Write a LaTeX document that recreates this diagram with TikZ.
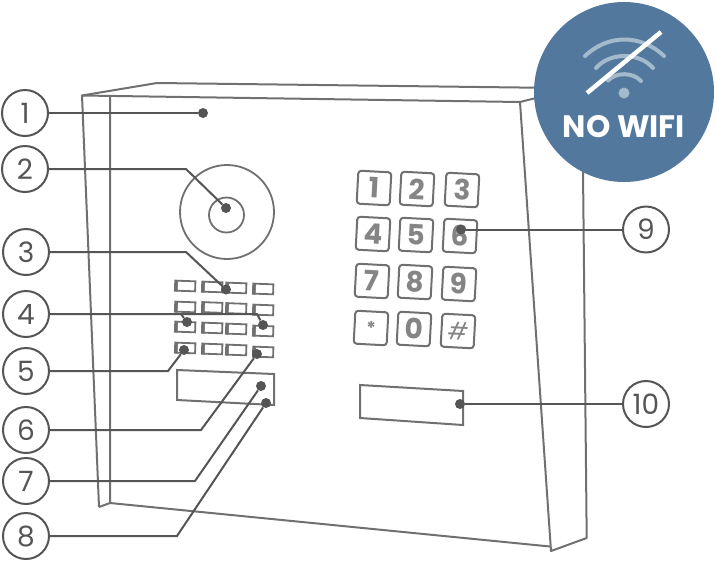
\documentclass[tikz,border=0pt]{standalone}
\usepackage{fontspec}
\setmainfont{Poppins}
\definecolor{linegray}{HTML}{707070}
\definecolor{leadgray}{HTML}{555555}
\definecolor{badgeblue}{HTML}{52789D}
\definecolor{wifiblue}{HTML}{A3BACD}
\tikzset{
    numcircle/.style={circle, draw=leadgray, line width=2pt, fill=white, minimum size=46pt, inner sep=0pt, text=leadgray, font=\fontsize{28}{28}\selectfont},
    leader/.style={leadgray, line width=2pt},
    leaddot/.style={circle, fill=leadgray, minimum size=10pt, inner sep=0pt},
    keycap/.style={draw=linegray, line width=2pt, rounded corners=3pt, minimum size=33pt, inner sep=0pt, rotate=-3, text=linegray!85, font=\bfseries\fontsize{28}{28}\selectfont},
    grille/.style={draw=linegray, line width=1.8pt, minimum width=18.5pt, minimum height=10pt, inner sep=0pt, rotate=-2,
        append after command={(\tikzlastnode.north west) edge[linegray, line width=3.4pt] (\tikzlastnode.south west)}},
    housing/.style={linegray, line width=2pt, line join=round},
    wifiarc/.style={wifiblue, line width=4pt, line cap=round},
}
\begin{document}
\begin{tikzpicture}[x=1pt, y=-1pt]
    \useasboundingbox (0,0) rectangle (717,563);
    % housing
    \draw[housing] (99,507) -- (82,95.5) -- (157,83) -- (560,88);
    \draw[housing] (82,95.5) -- (520,102) -- (551,551) -- (586.7,538) -- (583,170);
    \draw[housing] (520,102) -- (540,97);
    \draw[housing] (110,97) -- (110,503) -- (550,546.5);
    \draw[housing] (99,507) -- (110,503);
    % camera
    \draw[linegray, line width=1.8pt] (227,212) circle (47);
    \draw[linegray, line width=1.8pt] (226.5,215) circle (17.5);
    % grille
    \node[grille] (g11) at (186,286) {};
    \node[grille] (g12) at (213,287) {};
    \node[grille] (g13) at (237,288) {};
    \node[grille] (g14) at (264,289) {};
    \node[grille] (g21) at (186,307) {};
    \node[grille] (g22) at (213,307.5) {};
    \node[grille] (g23) at (237,308.5) {};
    \node[grille] (g24) at (264,310) {};
    \node[grille] (g31) at (186,327) {};
    \node[grille] (g32) at (213,328) {};
    \node[grille] (g33) at (237,329) {};
    \node[grille] (g34) at (264,331) {};
    \node[grille] (g41) at (186,348) {};
    \node[grille] (g42) at (213,349) {};
    \node[grille] (g43) at (237,350) {};
    \node[grille] (g44) at (264,352) {};
    % plates
    \draw[linegray, line width=2pt] (177,370) -- (274,374) -- (274,405) -- (177,400) -- cycle;
    \draw[linegray, line width=2pt] (360,385) -- (463,391) -- (463,425) -- (360,418) -- cycle;
    % keypad
    \node[keycap] (k1) at (374,188) {1};
    \node[keycap] (k2) at (417,189) {2};
    \node[keycap] (k3) at (462,190) {3};
    \node[keycap] (k4) at (373,234) {4};
    \node[keycap] (k5) at (416,235) {5};
    \node[keycap] (k6) at (460,236) {6};
    \node[keycap] (k7) at (372,281) {7};
    \node[keycap] (k8) at (415,282) {8};
    \node[keycap] (k9) at (459,284) {9};
    \node[keycap, font=\bfseries\fontsize{18}{18}\selectfont] (kstar) at (371,328) {*};
    \node[keycap] (k0) at (414,329) {0};
    \node[keycap, font=\fontsize{24}{24}\selectfont\itshape] (khash) at (458,331) {\#};
    % badge
    \node[circle, fill=badgeblue, minimum size=180pt, inner sep=0pt] (badge) at (624,92) {};
    \draw[wifiarc] (585,56) .. controls (608,34) and (641,34) .. (664,56);
    \draw[wifiarc] (596,68) .. controls (610,52) and (639,52) .. (653,68);
    \draw[wifiarc] (608,80.5) .. controls (616,72) and (633,72) .. (641,81);
    \node[circle, fill=wifiblue, minimum size=11pt, inner sep=0pt] (wifidot) at (624,93) {};
    \draw[white, line width=4.5pt] (587,93) -- (661,32);
    \node[white, font=\bfseries\fontsize{31}{31}\selectfont] (nowifi) at (624,126.5) {NO WIFI};
    % dots
    \node[leaddot] (d1) at (203,113) {};
    \node[leaddot] (d2) at (226,208) {};
    \node[leaddot] (d3) at (226,289.5) {};
    \node[leaddot] (d4a) at (187,322) {};
    \node[leaddot] (d4b) at (263,325) {};
    \node[leaddot] (d5) at (184,350) {};
    \node[leaddot] (d6) at (257,354) {};
    \node[leaddot] (d7) at (261,386) {};
    \node[leaddot] (d8) at (266,403) {};
    \node[leaddot] (d9) at (461,229.5) {};
    \node[leaddot] (d10) at (460,404) {};
    % numbers
    \node[numcircle] (n1) at (25,113) {1};
    \node[numcircle] (n2) at (25,169) {2};
    \node[numcircle] (n3) at (26,252) {3};
    \node[numcircle] (n4) at (26,314) {4};
    \node[numcircle] (n5) at (26,371) {5};
    \node[numcircle] (n6) at (26,430) {6};
    \node[numcircle] (n7) at (26,481) {7};
    \node[numcircle] (n8) at (26,536) {8};
    \node[numcircle] (n9) at (646,229.5) {9};
    \node[numcircle] (n10) at (646,404) {10};
    % leaders
    \draw[leader] (n1) -- (d1);
    \draw[leader] (n2) -- (186,169) -- (d2);
    \draw[leader] (n3) -- (186,252) -- (d3);
    \draw[leader] (n4) -- (257,314) -- (d4b);
    \draw[leader] (181,314) -- (d4a);
    \draw[leader] (n5) -- (168,371) -- (d5);
    \draw[leader] (n6) -- (201,430) -- (d6);
    \draw[leader] (n7) -- (195,481) -- (d7);
    \draw[leader] (n8) -- (177,536) -- (d8);
    \draw[leader] (d9) -- (n9);
    \draw[leader] (d10) -- (n10);
\end{tikzpicture}
\end{document}
